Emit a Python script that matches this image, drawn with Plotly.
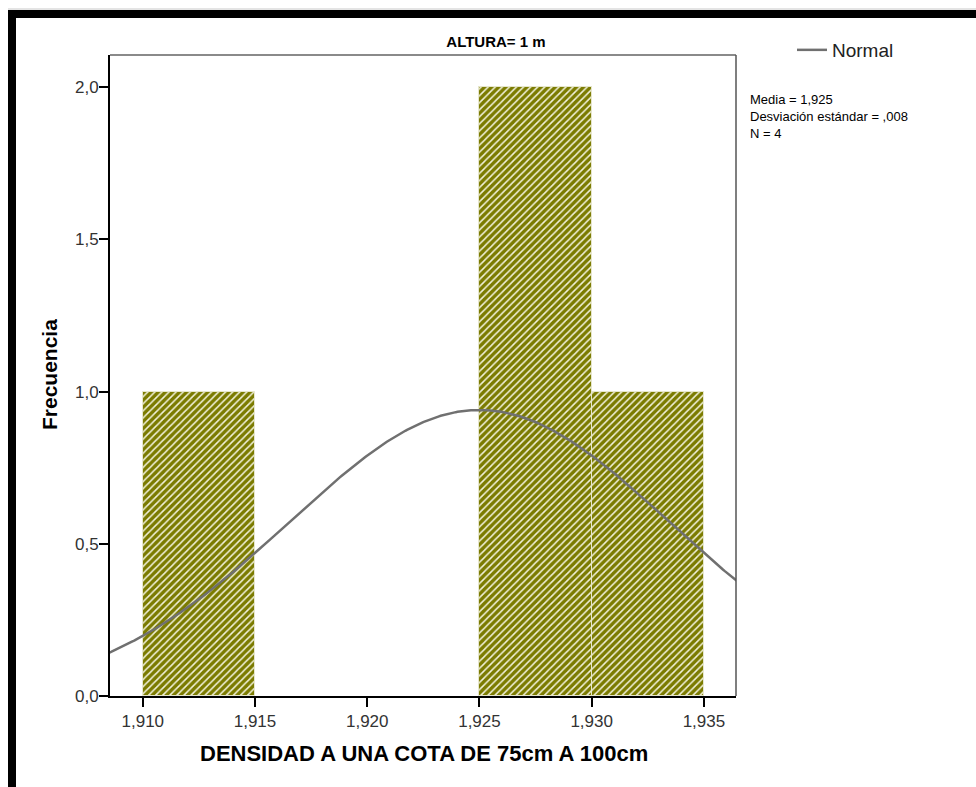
import numpy as np
import plotly.graph_objects as go

# Histogram bins (left edges), common bin width and frequencies
bin_left = [1.910, 1.925, 1.930]
bin_width = 0.005
frequency = [1, 2, 1]

# Summary statistics used for the fitted normal curve
mean = 1.925
std_dev = 0.00849
n_obs = 4

x_ticks = [1.910, 1.915, 1.920, 1.925, 1.930, 1.935]
y_ticks = [0.0, 0.5, 1.0, 1.5, 2.0]

title_text = "ALTURA= 1 m"
x_title = "DENSIDAD A UNA COTA DE 75cm A 100cm"
y_title = "Frecuencia"
curve_name = "Normal"

X_RANGE = [1.90854, 1.93643]
Y_RANGE = [0, 2.106]

# Canvas / margins (px)
W, H = 976, 787
M_L, M_R, M_T, M_B = 110, 240, 55, 91
PW = W - M_L - M_R
PH = H - M_T - M_B


def px_x(p):
    return (p - M_L) / PW


def px_y(p):
    return (H - M_B - p) / PH


FONT = "Liberation Sans, Arial, sans-serif"

# Normal curve scaled to histogram counts
xs = np.linspace(X_RANGE[0] - 0.001, X_RANGE[1] + 0.001, 400)
ys = n_obs * bin_width * np.exp(-0.5 * ((xs - mean) / std_dev) ** 2) / (std_dev * np.sqrt(2 * np.pi))

centers = [b + bin_width / 2 for b in bin_left]

fig = go.Figure()
fig.add_trace(go.Bar(
    x=centers, y=frequency, width=[bin_width] * len(centers),
    marker=dict(
        color="#7b7b00",
        line=dict(color="#e6e6cc", width=1),
        pattern=dict(shape="/", bgcolor="#7b7b00", fgcolor="#f2f2dc",
                     size=5, solidity=0.3, fillmode="replace"),
    ),
    showlegend=False, hoverinfo="skip",
))
fig.add_trace(go.Scatter(
    x=xs, y=ys, mode="lines", name=curve_name,
    line=dict(color="#707070", width=2.5),
))


def fmt_dec(v, nd):
    s = f"{v:.{nd}f}".replace(".", ",")
    if s.startswith("0,"):
        s = s[1:]
    return s


stat_lines = [
    f"Media = {fmt_dec(mean, 3)}",
    f"Desviación estándar = {fmt_dec(std_dev, 3)}",
    f"N = {n_obs}",
]

annotations = [dict(
    text="<br>".join(stat_lines), x=px_x(748), y=px_y(90), xref="paper", yref="paper",
    xanchor="left", yanchor="top", align="left", showarrow=False,
    font=dict(family=FONT, size=13, color="#000"),
)]

annotations.append(dict(
    text=f"<b>{x_title}</b>", x=px_x(424), y=px_y(753), xref="paper", yref="paper",
    xanchor="center", yanchor="middle", showarrow=False,
    font=dict(family=FONT, size=22, color="#000"),
))
annotations.append(dict(
    text=f"<b>{y_title}</b>", x=px_x(49), y=px_y(375), xref="paper", yref="paper",
    xanchor="center", yanchor="middle", showarrow=False, textangle=-90,
    font=dict(family=FONT, size=21, color="#000"),
))

shapes = [
    # chart frame (top and left heavy edges)
    dict(type="rect", xref="paper", yref="paper", x0=px_x(8), x1=px_x(W + 2),
         y0=px_y(18), y1=px_y(10), fillcolor="#000", line=dict(width=0), layer="above"),
    dict(type="rect", xref="paper", yref="paper", x0=px_x(8), x1=px_x(16),
         y0=px_y(H + 2), y1=px_y(10), fillcolor="#000", line=dict(width=0), layer="above"),
    dict(type="line", xref="paper", yref="paper", x0=px_x(8), x1=px_x(W + 2),
         y0=px_y(9), y1=px_y(9), line=dict(color="#c8c8c8", width=1)),
    # plot box top and right edges
    dict(type="line", xref="paper", yref="paper", x0=0, x1=1, y0=1, y1=1,
         line=dict(color="#8a8a8a", width=2), layer="above"),
    dict(type="line", xref="paper", yref="paper", x0=1, x1=1, y0=0, y1=1,
         line=dict(color="#555555", width=1.5), layer="above"),
]

fig.update_layout(
    width=W, height=H,
    margin=dict(l=M_L, r=M_R, t=M_T, b=M_B, pad=0),
    paper_bgcolor="white", plot_bgcolor="white",
    separators=",.",
    bargap=0,
    title=dict(text=f"<b>{title_text}</b>", x=496 / W, xref="container", xanchor="center",
               y=1 - 42 / H, yref="container", yanchor="middle",
               font=dict(family=FONT, size=15, color="#000")),
    xaxis=dict(range=X_RANGE, tickvals=x_ticks, tickformat=".3f",
               showline=True, linecolor="#000", linewidth=2,
               ticks="outside", ticklen=9, tickwidth=1.5, tickcolor="#000",
               showgrid=False, zeroline=False,
               tickfont=dict(family=FONT, size=17, color="#333")),
    yaxis=dict(range=Y_RANGE, tickvals=y_ticks, tickformat=".1f",
               showline=True, linecolor="#000", linewidth=2,
               ticks="outside", ticklen=9, tickwidth=1.5, tickcolor="#000",
               showgrid=False, zeroline=False, ticklabelstandoff=-3,
               tickfont=dict(family=FONT, size=17, color="#333")),
    showlegend=True,
    legend=dict(x=px_x(792), y=px_y(31), xanchor="left", yanchor="top",
                bgcolor="rgba(0,0,0,0)", borderwidth=0,
                font=dict(family=FONT, size=19, color="#222")),
    annotations=annotations,
    shapes=shapes,
)

fig.write_html("out.html")
